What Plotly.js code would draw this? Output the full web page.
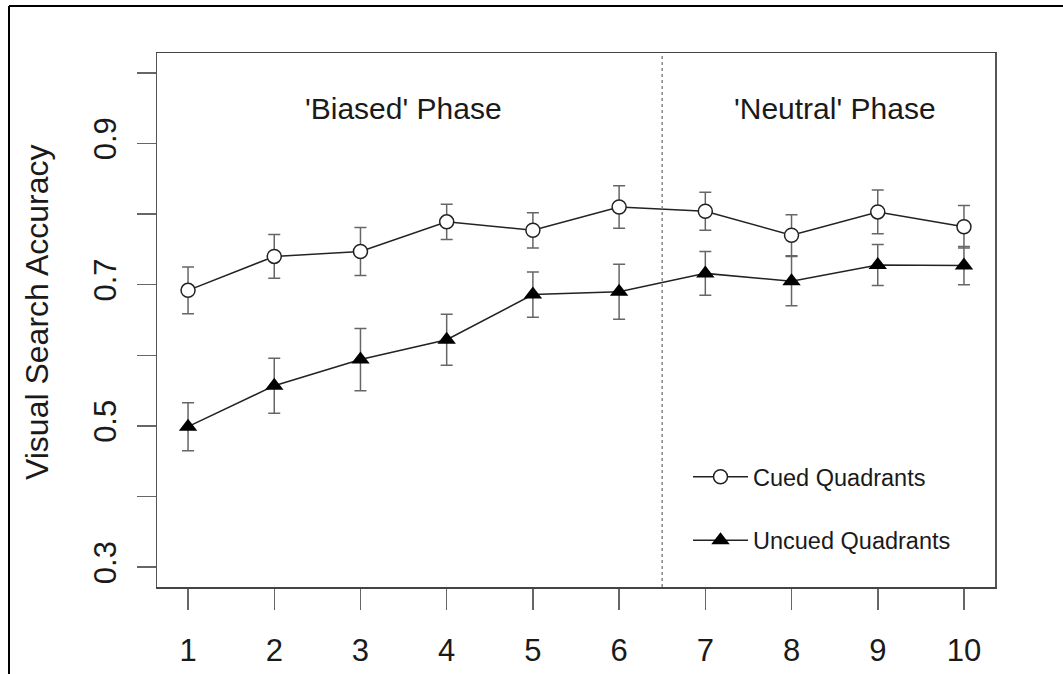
<!DOCTYPE html>
<html>
<head>
<meta charset="utf-8">
<script src="https://cdn.plot.ly/plotly-3.0.1.min.js"></script>
<style>html,body{margin:0;padding:0;background:#fff;}#chart{width:1063px;height:674px;}</style>
</head>
<body>
<div id="chart"></div>
<script>
var sessions = [1, 2, 3, 4, 5, 6, 7, 8, 9, 10];
var cued = [0.692, 0.740, 0.747, 0.789, 0.777, 0.810, 0.804, 0.770, 0.803, 0.782];
var cuedErr = [0.033, 0.031, 0.034, 0.025, 0.025, 0.030, 0.027, 0.029, 0.031, 0.030];
var uncued = [0.499, 0.557, 0.594, 0.622, 0.686, 0.690, 0.716, 0.705, 0.728, 0.727];
var uncuedErr = [0.034, 0.039, 0.044, 0.036, 0.032, 0.039, 0.031, 0.035, 0.029, 0.027];
var seriesNames = ['Cued Quadrants', 'Uncued Quadrants'];
var yTickVals = [0.3, 0.4, 0.5, 0.6, 0.7, 0.8, 0.9, 1.0];
var yTickText = ['0.3', '', '0.5', '', '0.7', '', '0.9', ''];
var yTitle = 'Visual Search Accuracy';
var phaseLabels = ["'Biased' Phase", "'Neutral' Phase"];
var phaseCenters = [3.5, 8.5];
var phaseBoundary = 6.5;

var font = 'Liberation Sans, Arial, sans-serif';
var errStyle = {type: 'data', visible: true, color: '#666', thickness: 1.5, width: 6};

var traces = [
  {
    x: sessions, y: cued, name: seriesNames[0], legendgroup: 'a',
    type: 'scatter', mode: 'lines+markers',
    line: {color: '#222', width: 1.5},
    marker: {symbol: 'circle', size: 14, color: '#fff', line: {color: '#222', width: 1.5}},
    error_y: Object.assign({array: cuedErr}, errStyle)
  },
  {
    x: sessions, y: uncued, name: seriesNames[1], legendgroup: 'b',
    type: 'scatter', mode: 'lines+markers',
    line: {color: '#222', width: 1.5},
    marker: {symbol: 'triangle-up', size: 16, color: '#000', line: {color: '#000', width: 0}},
    error_y: Object.assign({array: uncuedErr}, errStyle)
  }
];

var annotations = phaseLabels.map(function (t, i) {
  return {x: phaseCenters[i], y: 0.95, xref: 'x', yref: 'y', text: t, showarrow: false,
          font: {family: font, size: 30, color: '#1a1a1a'}};
});
annotations.push({
  x: (37 - 157) / 838, y: (587 - 312) / 534, xref: 'paper', yref: 'paper',
  text: yTitle, textangle: -90, showarrow: false, xanchor: 'center', yanchor: 'middle',
  font: {family: font, size: 32, color: '#1a1a1a'}
});

var layout = {
  width: 1063, height: 674,
  paper_bgcolor: '#fff', plot_bgcolor: '#fff',
  margin: {l: 157, r: 68, t: 53, b: 87},
  showlegend: true,
  legend: {
    x: (688 - 157) / 838, y: (587 - 455) / 534, xanchor: 'left', yanchor: 'top',
    bgcolor: 'rgba(0,0,0,0)', borderwidth: 0, itemwidth: 55, tracegroupgap: 30,
    font: {family: font, size: 23.5, color: '#1a1a1a'}
  },
  xaxis: {
    range: [0.64, 10.36], tickvals: sessions, ticktext: sessions.map(String),
    ticks: 'outside', ticklen: 21, tickwidth: 1.5, tickcolor: '#666',
    tickfont: {family: font, size: 31, color: '#1a1a1a'}, ticklabelstandoff: 14,
    showline: true, linecolor: '#444', linewidth: 1.5, mirror: true,
    showgrid: false, zeroline: false, fixedrange: true
  },
  yaxis: {
    range: [0.272, 1.028], tickvals: yTickVals, ticktext: yTickText, tickangle: -90,
    ticks: 'outside', ticklen: 19, tickwidth: 1.5, tickcolor: '#666',
    tickfont: {family: font, size: 31, color: '#1a1a1a'}, ticklabelstandoff: 8,
    showline: true, linecolor: '#555', linewidth: 1.5, mirror: true,
    showgrid: false, zeroline: false, fixedrange: true
  },
  annotations: annotations,
  shapes: [
    {type: 'line', xref: 'x', yref: 'paper', x0: phaseBoundary, x1: phaseBoundary, y0: 0, y1: 1,
     line: {color: '#888', width: 1.5, dash: 'dot'}},
    {type: 'line', xref: 'paper', yref: 'paper', x0: (9 - 157) / 838, x1: (1063 - 157) / 838,
     y0: (587 - 6) / 534, y1: (587 - 6) / 534, line: {color: '#000', width: 2}},
    {type: 'line', xref: 'paper', yref: 'paper', x0: (9 - 157) / 838, x1: (9 - 157) / 838,
     y0: (587 - 6) / 534, y1: (587 - 680) / 534, line: {color: '#000', width: 2}}
  ]
};

Plotly.newPlot('chart', traces, layout, {displayModeBar: false, staticPlot: true});
</script>
</body>
</html>
